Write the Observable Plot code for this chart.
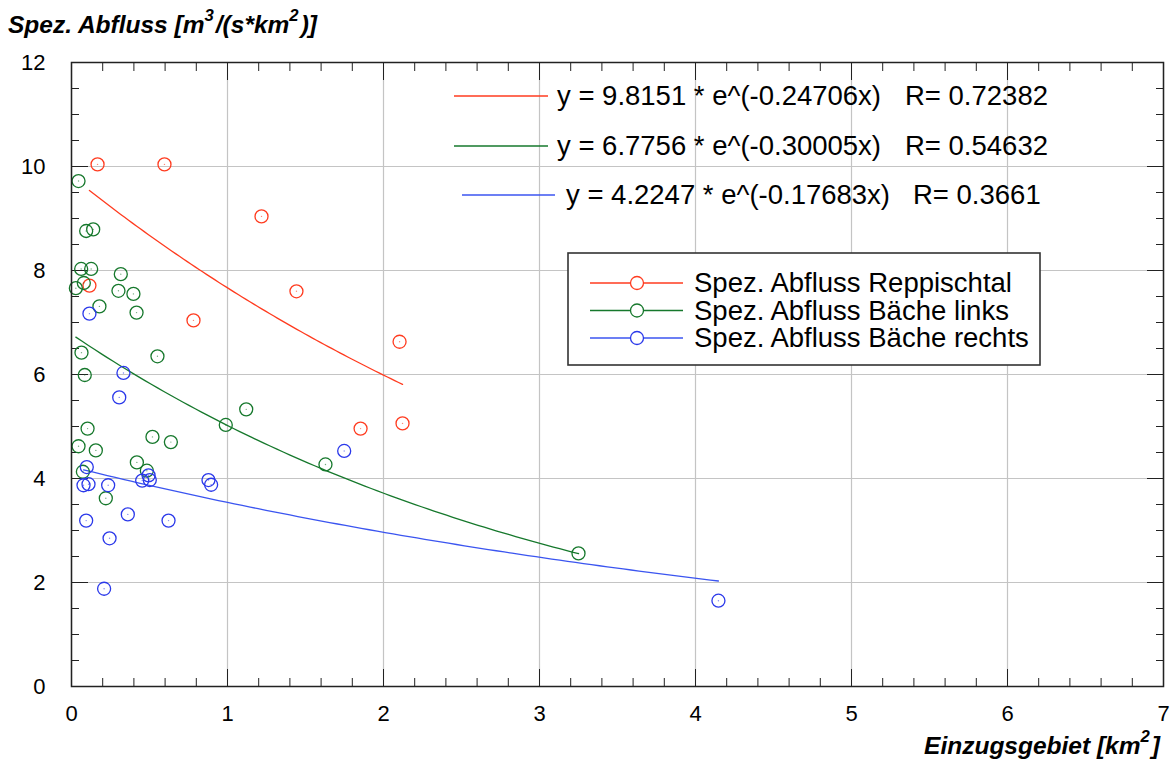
<!DOCTYPE html>
<html>
<head>
<meta charset="utf-8">
<script src="https://cdn.jsdelivr.net/npm/d3@7"></script>
<script src="https://cdn.jsdelivr.net/npm/@observablehq/plot@0.6"></script>
<style>
  body { margin: 0; background: #fff; }
  svg text { font-family: "Liberation Sans", Arial, Helvetica, sans-serif; }
</style>
</head>
<body>
<div id="chart"></div>
<script>
// Catchment area [km²] and specific discharge [m³/(s·km²)] per series
const reppX = [0.167, 0.596, 1.218, 1.442, 0.782, 2.103, 1.853, 2.122, 0.115];
const reppY = [10.04, 10.04, 9.04, 7.60, 7.04, 6.63, 4.96, 5.06, 7.71];

const linksX = [0.045, 0.094, 0.139, 0.062, 0.126, 0.316, 0.079, 0.028, 0.301, 0.397,
                0.179, 0.417, 0.064, 0.551, 0.085, 1.12, 0.989, 0.103, 0.045, 0.519,
                0.637, 0.156, 0.419, 0.073, 0.483, 0.220, 1.628, 3.25];
const linksY = [9.72, 8.76, 8.79, 8.03, 8.03, 7.93, 7.76, 7.66, 7.61, 7.55,
                7.31, 7.19, 6.42, 6.35, 5.99, 5.33, 5.03, 4.96, 4.62, 4.80,
                4.70, 4.54, 4.31, 4.13, 4.15, 3.62, 4.27, 2.56];

const rechtsX = [0.115, 0.333, 0.306, 0.098, 0.494, 0.453, 0.502, 0.878, 0.895, 0.109,
                 0.077, 0.235, 0.094, 0.361, 0.622, 0.244, 0.209, 1.748, 4.147];
const rechtsY = [7.17, 6.03, 5.56, 4.22, 4.06, 3.96, 3.97, 3.97, 3.88, 3.89,
                 3.87, 3.87, 3.19, 3.31, 3.19, 2.85, 1.88, 4.53, 1.65];

// Exponential fits y = a * e^(b x) and their correlation coefficients
const seriesNames = ["Spez. Abfluss Reppischtal", "Spez. Abfluss Bäche links", "Spez. Abfluss Bäche rechts"];
const fitA = [9.8151, 6.7756, 4.2247];
const fitB = [-0.24706, -0.30005, -0.17683];
const fitR = ["0.72382", "0.54632", "0.3661"];
const colors = ["#ff3b1f", "#16782c", "#2a38ea"];
const fitColors = ["#ff3b1f", "#16782c", "#3b55f0"];

// Axis ticks
const xMajor = d3.range(0, 8);
const xMinor = d3.range(0, 36).filter(i => i % 5 !== 0).map(i => i / 5);
const yMajor = d3.range(0, 13, 2);
const yMinor = d3.range(0, 25).filter(i => i % 4 !== 0).map(i => i / 2);

const seriesX = [reppX, linksX, rechtsX];
const seriesY = [reppY, linksY, rechtsY];

const points = seriesX.flatMap((xs, s) => xs.map((x, i) => ({x, y: seriesY[s][i], s})));

// Fitted curves sampled across each series' own x extent
const curves = seriesX.flatMap((xs, s) => {
  const [x0, x1] = d3.extent(xs);
  return d3.range(0, 81).map(i => {
    const x = x0 + (x1 - x0) * i / 80;
    return {x, y: fitA[s] * Math.exp(fitB[s] * x), s};
  });
});

const W = 1173, H = 762;
const mL = 71, mR = 10, mT = 62, mB = 76;

const chart = Plot.plot({
  width: W,
  height: H,
  marginLeft: mL,
  marginRight: mR,
  marginTop: mT,
  marginBottom: mB,
  style: {fontFamily: "Liberation Sans, Arial, sans-serif", color: "#000", background: "#fff"},
  x: {domain: [0, 7]},
  y: {domain: [0, 12]},
  marks: [
    Plot.gridX(xMajor, {stroke: "#c4c4c4", strokeOpacity: 1, strokeWidth: 1.2}),
    Plot.gridY(yMajor, {stroke: "#c4c4c4", strokeOpacity: 1, strokeWidth: 1.2}),
    // inward minor and major ticks on all four sides
    Plot.axisX(xMinor, {anchor: "bottom", tickSize: -8, fill: "none", label: null, stroke: "#222"}),
    Plot.axisX(xMinor, {anchor: "top", tickSize: -8, fill: "none", label: null, stroke: "#222"}),
    Plot.axisX(xMajor, {anchor: "bottom", tickSize: -17, fill: "none", label: null, stroke: "#222"}),
    Plot.axisX(xMajor, {anchor: "top", tickSize: -17, fill: "none", label: null, stroke: "#222"}),
    Plot.axisY(yMinor, {anchor: "left", tickSize: -8, fill: "none", label: null, stroke: "#222"}),
    Plot.axisY(yMinor, {anchor: "right", tickSize: -8, fill: "none", label: null, stroke: "#222"}),
    Plot.axisY(yMajor, {anchor: "left", tickSize: -17, fill: "none", label: null, stroke: "#222"}),
    Plot.axisY(yMajor, {anchor: "right", tickSize: -17, fill: "none", label: null, stroke: "#222"}),
    // tick labels
    Plot.axisX(xMajor, {anchor: "bottom", tickSize: 0, tickPadding: 19, fontSize: 22, label: null, tickFormat: d => d}),
    Plot.axisY(yMajor, {anchor: "left", tickSize: 0, tickPadding: 26, fontSize: 22, label: null, tickFormat: d => d}),
    Plot.line(curves, {x: "x", y: "y", z: "s", stroke: d => fitColors[d.s], strokeWidth: 1.3, curve: "linear"}),
    Plot.dot(points, {x: "x", y: "y", r: 6.5, stroke: d => colors[d.s], strokeWidth: 1.3, fill: "none"}),
    Plot.dot(points, {x: "x", y: "y", r: 0.7, fill: d => colors[d.s], fillOpacity: 0.6}),
    Plot.frame({stroke: "#222", strokeWidth: 1.5})
  ]
});

document.getElementById("chart").appendChild(chart);

const svg = d3.select(chart.tagName === "svg" ? chart : chart.querySelector("svg"));

// Axis titles with raised exponents
function titleWithSup(g, x, y, parts, size, anchor) {
  const t = g.append("text")
    .attr("x", x).attr("y", y)
    .attr("text-anchor", anchor)
    .attr("font-size", size)
    .attr("font-weight", "bold")
    .attr("font-style", "italic")
    .attr("fill", "#000");
  parts.forEach(([str, sup]) => {
    if (sup) {
      t.append("tspan").attr("font-size", size * 0.68).attr("dy", -size * 0.5).text(str);
      t.append("tspan").attr("font-size", size).attr("dy", size * 0.5).text("\u200A");
    } else {
      t.append("tspan").text(str);
    }
  });
  return t;
}
const overlay = svg.append("g").attr("text-anchor", "start");
titleWithSup(overlay, 8, 33, [["Spez. Abfluss [m"], ["3", true], ["/(s*km"], ["2", true], [")]"]], 24.5, "start");
titleWithSup(overlay, 1160, 754, [["Einzugsgebiet [km"], ["2", true], ["]"]], 24.5, "end");

// Fit equations
const eqRows = [
  {ly: 96, lx0: 454, lx1: 548, tx: 557, rx: 905},
  {ly: 146, lx0: 454, lx1: 548, tx: 557, rx: 905},
  {ly: 195, lx0: 462, lx1: 555, tx: 566, rx: 913}
];
eqRows.forEach((row, s) => {
  overlay.append("line")
    .attr("x1", row.lx0).attr("x2", row.lx1).attr("y1", row.ly).attr("y2", row.ly)
    .attr("stroke", fitColors[s]).attr("stroke-width", 1.3);
  overlay.append("text")
    .attr("x", row.tx).attr("y", row.ly + 9)
    .attr("text-anchor", "start")
    .attr("font-size", 27.5).attr("fill", "#000")
    .text(`y = ${fitA[s]} * e^(${fitB[s]}x)`);
  overlay.append("text")
    .attr("x", row.rx).attr("y", row.ly + 9)
    .attr("text-anchor", "start")
    .attr("font-size", 27.5).attr("fill", "#000")
    .text(`R= ${fitR[s]}`);
});

// Series legend
const lg = overlay.append("g");
lg.append("rect")
  .attr("x", 568).attr("y", 253).attr("width", 472).attr("height", 112)
  .attr("fill", "#fff").attr("stroke", "#333").attr("stroke-width", 1.6);
seriesNames.forEach((name, s) => {
  const y = 283 + s * 27.5;
  lg.append("line").attr("x1", 590).attr("x2", 683).attr("y1", y).attr("y2", y)
    .attr("stroke", fitColors[s]).attr("stroke-width", 1.3);
  lg.append("circle").attr("cx", 637).attr("cy", y).attr("r", 6.5)
    .attr("fill", "#fff").attr("stroke", colors[s]).attr("stroke-width", 1.3);
  lg.append("text").attr("x", 694).attr("y", y + 9)
    .attr("text-anchor", "start")
    .attr("font-size", 27.5).attr("fill", "#000").text(name);
});
</script>
</body>
</html>
